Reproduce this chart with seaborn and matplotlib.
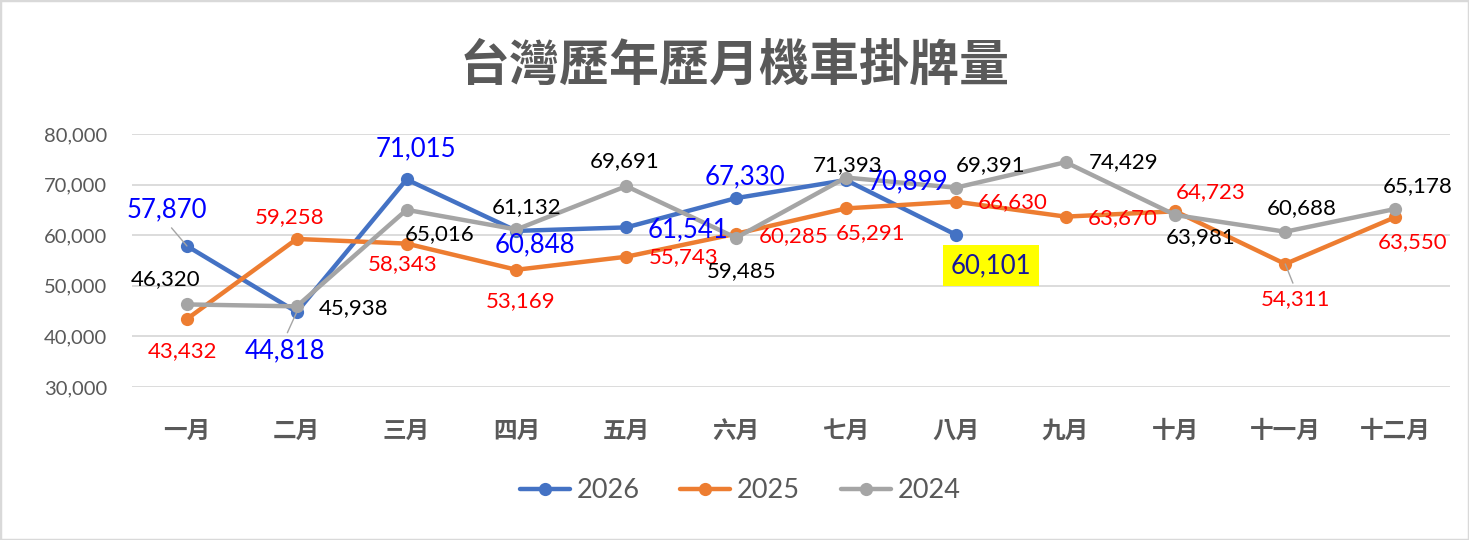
import pandas as pd
import matplotlib.pyplot as plt
import seaborn as sns
from matplotlib.lines import Line2D
from matplotlib.patches import Rectangle

months = ['一月', '二月', '三月', '四月', '五月', '六月',
          '七月', '八月', '九月', '十月', '十一月', '十二月']
years = ['2026', '2025', '2024']
y2026 = [57870, 44818, 71015, 60848, 61541, 67330, 70899, 60101]
y2025 = [43432, 59258, 58343, 53169, 55743, 60285, 65291, 66630,
         63670, 64723, 54311, 63550]
y2024 = [46320, 45938, 65016, 61132, 69691, 59485, 71393, 69391,
         74429, 63981, 60688, 65178]
yticks = [30000, 40000, 50000, 60000, 70000, 80000]

# label offsets in pixels (dx, dy up), placed by hand like the excel chart
off2026 = [(-20, 36), (-12, -39), (9, 31), (19, -14), (62, -2), (9, 21),
           (62, -2), (35, -31)]
off2025 = [(-4, -32), (-7, 22), (-4, -21), (4, -31), (57, 0), (58, -2),
           (25, -25), (57, 0), (57, -1), (35, 19), (10, -35), (17, -25)]
off2024 = [(-21, 25), (57, -2), (33, -24), (10, 22), (-2, 25), (6, -33),
           (2, 12), (35, 23), (58, 0), (25, -22), (17, 24), (23, 23)]

line_colors = {'2026': '#4472C4', '2025': '#ED7D31', '2024': '#A5A5A5'}
text_colors = {'2026': '#0000FF', '2025': '#FF0000', '2024': '#000000'}

sns.set_theme(style='white')
plt.rcParams['font.family'] = ['Lato', 'Noto Sans CJK TC', 'DejaVu Sans']

series = {'2026': y2026, '2025': y2025, '2024': y2024}
offsets = {'2026': off2026, '2025': off2025, '2024': off2024}
df = pd.concat([pd.DataFrame({'idx': range(len(v)), 'value': v, 'year': k})
                for k, v in series.items()], ignore_index=True)

fig = plt.figure(figsize=(14.69, 5.40), dpi=100)
ax = fig.add_axes([132 / 1469, 1 - 387 / 540, (1450 - 132) / 1469, (387 - 134) / 540])

sns.lineplot(data=df, x='idx', y='value', hue='year', hue_order=years,
             palette=line_colors, marker='o', markersize=9.5, markeredgewidth=0,
             linewidth=3.2, errorbar=None, legend=False, ax=ax)

ax.set_xlim(-0.5, 11.5)
ax.set_ylim(30000, 80000)
ax.set_yticks(yticks)
ax.set_yticklabels([f'{t:,}' for t in yticks], color='#595959', fontsize=14.5)
ax.set_xticks(range(len(months)))
ax.set_xticklabels(months, color='#595959', fontsize=17,
                   family=['Noto Sans CJK TC'], fontweight='bold')
ax.tick_params(axis='y', length=0, pad=18)
ax.tick_params(axis='x', length=0, pad=23)
ax.set_xlabel('')
ax.set_ylabel('')
ax.grid(axis='y', color='#D9D9D9', linewidth=1.3)
ax.set_axisbelow(True)
for s in ax.spines.values():
    s.set_visible(False)

leaders = {('2026', 0): (0.5, 0), ('2026', 1): (0.5, 1), ('2025', 10): (0.5, 1)}

for yr in years:
    vals = series[yr]
    for i, v in enumerate(vals):
        dx, dy = offsets[yr][i]
        kw = dict(xy=(i, v), xytext=(dx, dy), textcoords='offset pixels',
                  ha='center', va='center', color=text_colors[yr],
                  fontsize=18.5 if yr == '2026' else 16, zorder=5)
        if yr == '2026' and i == len(vals) - 1:
            kw['color'] = '#16169A'
            kw['bbox'] = dict(boxstyle='square,pad=0.3', fc='#FFFF00', ec='none')
        if (yr, i) in leaders:
            kw['arrowprops'] = dict(arrowstyle='-', color='#A5A5A5', lw=1,
                                    shrinkA=2, shrinkB=0, relpos=leaders[(yr, i)])
        ax.annotate(f'{v:,}', **kw)

fig.text(735 / 1469, 1 - 66 / 540, '台灣歷年歷月機車掛牌量', ha='center', va='center',
         fontsize=36, fontweight='bold', color='#595959',
         family=['Noto Sans CJK TC'])

handles = [Line2D([], [], color=line_colors[y], lw=3.2, marker='o', markersize=9.5,
                  markeredgewidth=0) for y in years]
leg = ax.legend(handles, years, loc='center', bbox_to_anchor=(740 / 1469, 1 - 491 / 540),
                bbox_transform=fig.transFigure, ncol=3, frameon=False, fontsize=19.5,
                handlelength=1.85, handletextpad=0.25, columnspacing=1.5)
for t in leg.get_texts():
    t.set_color('#595959')

fig.patches.append(Rectangle((0, 0), 1, 1, transform=fig.transFigure, fill=False,
                             edgecolor='#D9D9D9', lw=2.5))

fig.savefig('out.png', dpi=100)
